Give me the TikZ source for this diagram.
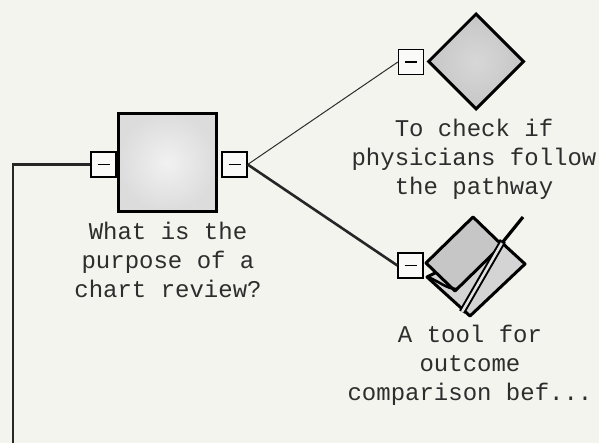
\documentclass[tikz,border=0pt]{standalone}
\usepackage{fontspec}
\setmonofont{Liberation Mono}
\usetikzlibrary{shapes.geometric}
\begin{document}
\begin{tikzpicture}[x=1pt,y=-1pt]

		\definecolor{paper}{RGB}{243,244,238}
		\definecolor{boxgray}{RGB}{220,220,220}
		\definecolor{diagray}{RGB}{198,198,198}
		\definecolor{inkgray}{RGB}{45,45,45}

		\tikzstyle{edge} = [draw,-,line width=1pt,inkgray]
		\tikzstyle{heavyedge} = [draw,-,line width=2.6pt,black!85]
		\tikzset{caption/.style = {align=center,font=\ttfamily\fontsize{24}{29}\selectfont,text=inkgray}}
		\tikzset{port/.style = {shape=rectangle,draw,fill=white!60!paper,line width=1.3pt,minimum width=25pt,minimum height=25pt,inner sep=0pt,
			path picture={\draw[line width=1.6pt] ([xshift=-6pt]path picture bounding box.center) -- ([xshift=6pt]path picture bounding box.center);}}}

		\useasboundingbox (0,0) rectangle (599,443);
		\fill[paper] (0,0) rectangle (599,443);

		% question box
		\node[shape=rectangle,draw,line width=3pt,minimum size=98pt,inner color=boxgray!40!white,outer color=boxgray] (q) at (167,162.5) {};
		\node[port] (qin) at (103.5,164.5) {};
		\node[port] (qout) at (234.5,164.5) {};
		\node[caption] (qtext) at (168,260) {What is the\\purpose of a\\chart review?};

		% first answer
		\tikzset{vertex/.style = {shape=diamond,draw,line width=3pt,inner sep=0pt,minimum size=96pt,inner color=diagray!70!white,outer color=diagray}}
		\node[vertex] (a1) at (476,61.5) {};
		\node[port] (a1in) at (411,62) {};
		\node[caption] (a1text) at (474,159) {To check if\\physicians follow\\the pathway};

		% second answer, caught while being moved
		\fill[diagray!75!white,draw=black,line width=3pt,line join=round] (500,241) -- (525,264) -- (470,316) -- (427,277) -- cycle;
		\fill[diagray,draw=black,line width=3pt,line join=round] (473,217) -- (502,245) -- (455,291) -- (426,263) -- cycle;
		\draw[line width=2pt,double=diagray!50!white,double distance=2.5pt] (462,312) -- (503,241);
		\draw[line width=3.2pt] (502,243) -- (523,217);
		\draw[line width=2.6pt] (428,277) .. controls (440,282) and (447,289) .. (457,289);
		\node[port] (a2in) at (410.5,265.5) {};
		\node[caption] (a2text) at (470,365) {A tool for\\outcome\\comparison bef...};

		\coordinate (bend) at (13,164.5);
		\coordinate (down) at (13,443);

		\draw[edge] (qout.east) to (a1in.west);
		\draw[heavyedge] (qout.east) to (a2in.west);
		\draw[heavyedge] (qin.west) -- (bend) -- (down);
		\end{tikzpicture}
\end{document}
